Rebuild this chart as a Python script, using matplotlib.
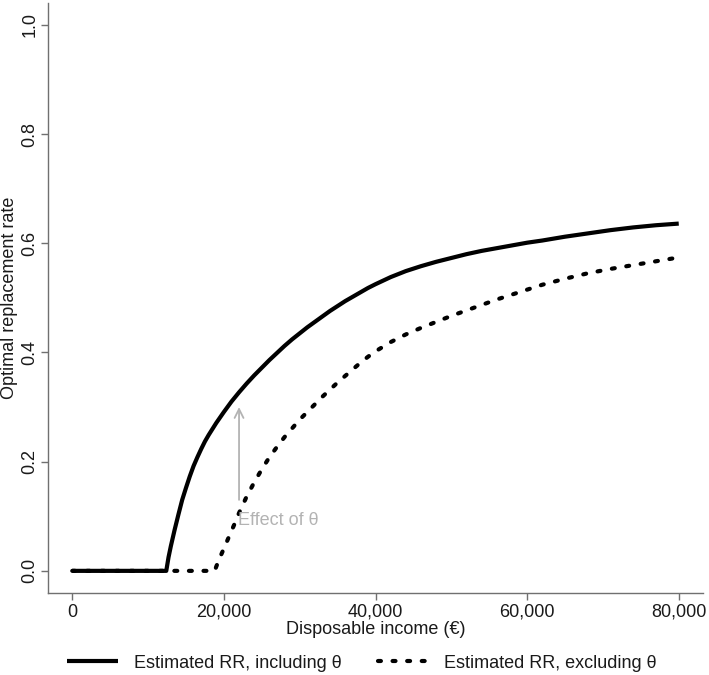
import numpy as np
import matplotlib
matplotlib.use("Agg")
import matplotlib.pyplot as plt

# Renda disponível (€) e taxa de substituição ótima
renda_com = [0, 12400, 12700, 13000, 13500, 14000, 14500, 15000, 15500, 16000,
             16500, 17000, 17500, 18000, 18500, 19000, 19500, 20000, 21000, 22000,
             23000, 24000, 25000, 26000, 27000, 28000, 29000, 30000, 31000, 32000,
             33000, 34000, 35000, 36000, 37000, 38000, 39000, 40000, 42000, 44000,
             46000, 48000, 50000, 52000, 54000, 56000, 58000, 60000, 62000, 65000,
             68000, 71000, 74000, 77000, 80000]
rr_com = [0, 0, 0.025, 0.045, 0.075, 0.103, 0.13, 0.152, 0.173, 0.192,
          0.208, 0.223, 0.237, 0.249, 0.26, 0.271, 0.281, 0.291, 0.31, 0.327,
          0.343, 0.358, 0.372, 0.386, 0.399, 0.412, 0.424, 0.435, 0.446, 0.456,
          0.466, 0.476, 0.485, 0.494, 0.502, 0.510, 0.518, 0.525, 0.538, 0.549,
          0.558, 0.566, 0.573, 0.580, 0.586, 0.591, 0.596, 0.601, 0.605, 0.612,
          0.618, 0.624, 0.629, 0.633, 0.636]

renda_sem = [0, 18800, 19000, 19500, 20000, 20500, 21000, 21500, 22000, 22500,
             23000, 23500, 24000, 24500, 25000, 25500, 26000, 27000, 28000, 29000,
             30000, 31000, 32000, 33000, 34000, 35000, 36000, 37000, 38000, 39000,
             40000, 42000, 44000, 46000, 48000, 50000, 52000, 54000, 56000, 58000,
             60000, 62000, 65000, 68000, 71000, 74000, 77000, 80000]
rr_sem = [0, 0, 0.008, 0.025, 0.041, 0.057, 0.073, 0.089, 0.106, 0.121,
          0.136, 0.149, 0.162, 0.174, 0.186, 0.197, 0.208, 0.227, 0.245, 0.261,
          0.277, 0.291, 0.305, 0.319, 0.332, 0.345, 0.357, 0.369, 0.381, 0.392,
          0.402, 0.419, 0.433, 0.445, 0.456, 0.467, 0.477, 0.487, 0.497, 0.506,
          0.515, 0.524, 0.535, 0.545, 0.553, 0.560, 0.567, 0.574]

x_ticks = [0, 20000, 40000, 60000, 80000]
y_ticks = [0.0, 0.2, 0.4, 0.6, 0.8, 1.0]

# anotação do efeito de theta
seta_x = 22000
seta_de = 0.13
seta_ate = 0.30

plt.rcParams['font.family'] = ['Liberation Sans', 'DejaVu Sans']
cor_texto = '#1a1a1a'
cor_eixo = '#707070'

fig = plt.figure(figsize=(7.09, 6.75), dpi=100)
ax = fig.add_axes([48/709, 82.3/675, 655/709, 589.7/675])

ax.plot(renda_com, rr_com, color='black', lw=3, solid_capstyle='butt',
        solid_joinstyle='round', label='Estimated RR, including θ')
ax.plot(renda_sem, rr_sem, color='black', lw=3, dashes=(0.7, 2.8),
        dash_capstyle='round', label='Estimated RR, excluding θ')

ax.annotate('', xy=(seta_x, seta_ate), xytext=(seta_x, seta_de),
            arrowprops=dict(arrowstyle='->', color='#b3b3b3', lw=1.3,
                            mutation_scale=16, shrinkA=0, shrinkB=0))
ax.text(seta_x - 100, 0.092, 'Effect of θ', color='#b3b3b3', fontsize=13,
        ha='left', va='center')

ax.set_xlim(-3200, 83200)
ax.set_ylim(-0.04, 1.04)
ax.set_xticks(x_ticks)
ax.set_xticklabels([f'{v:,}' for v in x_ticks])
ax.set_yticks(y_ticks)
ax.set_yticklabels([f'{v:.1f}' for v in y_ticks], rotation=90, va='center')

for s in ['top', 'right']:
    ax.spines[s].set_visible(False)
for s in ['left', 'bottom']:
    ax.spines[s].set_color(cor_eixo)
    ax.spines[s].set_linewidth(1)
ax.tick_params(colors=cor_eixo, labelcolor=cor_texto, labelsize=13, length=5, width=1)
ax.tick_params(axis='x', pad=3)
ax.tick_params(axis='y', pad=2)

ax.set_xlabel('Disposable income (€)', fontsize=13, color=cor_texto, labelpad=0)
ax.set_ylabel('Optimal replacement rate', fontsize=13, color=cor_texto, labelpad=2)

fig.legend(loc='center', bbox_to_anchor=(362/709, 12/675), ncol=2, frameon=False,
           fontsize=13, handlelength=2.8, handletextpad=0.9, columnspacing=2.0,
           labelcolor=cor_texto)

fig.savefig('out.png', dpi=100)
